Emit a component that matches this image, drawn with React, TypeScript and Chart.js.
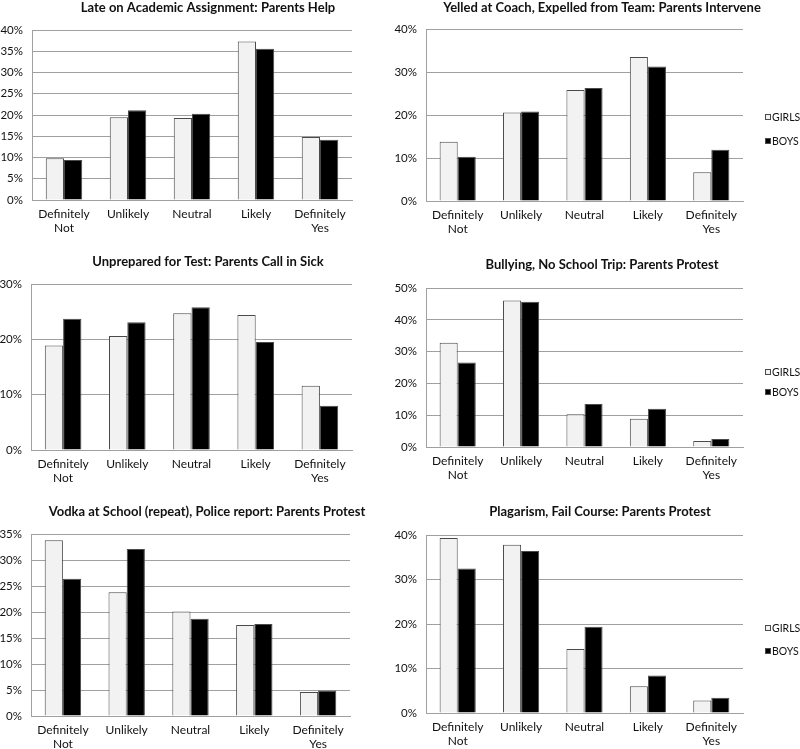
import React, { useEffect, useRef } from "react";
import { Chart, registerables } from "chart.js";

Chart.register(...registerables);

// ---------- DATA ----------
const categories: (string | string[])[] = [["Definitely", "Not"], "Unlikely", "Neutral", "Likely", ["Definitely", "Yes"]];
const seriesNames = ["GIRLS", "BOYS"];

const title1 = "Late on Academic Assignment: Parents Help";
const girls1 = [9.8, 19.5, 19.3, 37.3, 14.8];
const boys1 = [9.4, 21.1, 20.3, 35.6, 14.2];
const yTicks1 = ["0%", "5%", "10%", "15%", "20%", "25%", "30%", "35%", "40%"];

const title2 = "Yelled at Coach, Expelled from Team: Parents Intervene";
const girls2 = [13.8, 20.6, 25.8, 33.5, 6.7];
const boys2 = [10.3, 20.8, 26.3, 31.3, 11.9];
const yTicks2 = ["0%", "10%", "20%", "30%", "40%"];

const title3 = "Unprepared for Test: Parents Call in Sick";
const girls3 = [18.9, 20.6, 24.7, 24.4, 11.6];
const boys3 = [23.7, 23.1, 25.8, 19.5, 8.0];
const yTicks3 = ["0%", "10%", "20%", "30%"];

const title4 = "Bullying, No School Trip: Parents Protest";
const girls4 = [32.8, 46.1, 10.3, 8.9, 1.9];
const boys4 = [26.6, 45.7, 13.5, 12.0, 2.5];
const yTicks4 = ["0%", "10%", "20%", "30%", "40%", "50%"];

const title5 = "Vodka at School (repeat), Police report: Parents Protest";
const girls5 = [33.8, 23.8, 20.1, 17.5, 4.6];
const boys5 = [26.4, 32.1, 18.7, 17.7, 4.9];
const yTicks5 = ["0%", "5%", "10%", "15%", "20%", "25%", "30%", "35%"];

const title6 = "Plagarism, Fail Course: Parents Protest";
const girls6 = [39.3, 37.8, 14.4, 6.0, 2.8];
const boys6 = [32.5, 36.4, 19.4, 8.4, 3.4];
const yTicks6 = ["0%", "10%", "20%", "30%", "40%"];

// ---------- STYLE ----------
const FONT = "Lato, 'Open Sans', 'Liberation Sans', sans-serif";
const TEXT = "#111";
const GRID = "#a0a0a0";
const GIRLS_FILL = "#f2f2f2";
const BOYS_FILL = "#000000";
const BAR_BORDER = "#4a4a4a";

type PanelDef = {
  title: string;
  girls: number[];
  boys: number[];
  ticks: string[];
  max: number;
  step: number;
  x: number; y: number; w: number; h: number;
  plotL: number; plotR: number; plotT: number; plotB: number;
  titleY: number;
  legend: number[] | null;
};

const panels: PanelDef[] = [
  { title: title1, girls: girls1, boys: boys1, ticks: yTicks1, max: 40, step: 5,
    x: 0, y: 0, w: 416, h: 250, plotL: 32, plotR: 352, plotT: 30, plotB: 200, titleY: 7, legend: null },
  { title: title2, girls: girls2, boys: boys2, ticks: yTicks2, max: 40, step: 10,
    x: 385, y: 0, w: 434, h: 250, plotL: 426, plotR: 743, plotT: 29, plotB: 201, titleY: 6, legend: [88, 112] },
  { title: title3, girls: girls3, boys: boys3, ticks: yTicks3, max: 30, step: 10,
    x: 0, y: 250, w: 416, h: 250, plotL: 31, plotR: 352, plotT: 284, plotB: 450, titleY: 262, legend: null },
  { title: title4, girls: girls4, boys: boys4, ticks: yTicks4, max: 50, step: 10,
    x: 385, y: 250, w: 434, h: 250, plotL: 426, plotR: 743, plotT: 288, plotB: 447, titleY: 265, legend: [84, 104] },
  { title: title5, girls: girls5, boys: boys5, ticks: yTicks5, max: 35, step: 5,
    x: 0, y: 500, w: 414, h: 249, plotL: 31, plotR: 350, plotT: 534, plotB: 716, titleY: 512, legend: null },
  { title: title6, girls: girls6, boys: boys6, ticks: yTicks6, max: 40, step: 10,
    x: 385, y: 500, w: 430, h: 249, plotL: 426, plotR: 743, plotT: 535, plotB: 713, titleY: 512, legend: [93, 116] },
];

const sideLegend = {
  id: "sideLegend",
  afterDraw(chart: any, _args: any, opts: any) {
    if (!opts || !opts.offsets) return;
    const { ctx, chartArea } = chart;
    ctx.save();
    ctx.font = `10.5px ${FONT}`;
    ctx.textBaseline = "middle";
    ctx.textAlign = "left";
    chart.data.datasets.forEach((ds: any, i: number) => {
      const yc = Math.round(chartArea.top + opts.offsets[i]);
      const bx = Math.round(chartArea.right + 22);
      ctx.fillStyle = ds.backgroundColor;
      ctx.fillRect(bx, yc - 3, 6, 6);
      ctx.strokeStyle = BAR_BORDER;
      ctx.lineWidth = 1;
      ctx.strokeRect(bx + 0.5, yc - 2.5, 5, 5);
      ctx.fillStyle = TEXT;
      ctx.fillText(ds.label, bx + 7, yc + 0.5);
    });
    ctx.restore();
  },
};

function Panel({ p }: { p: PanelDef }) {
  const ref = useRef<HTMLCanvasElement>(null);
  useEffect(() => {
    const titleSize = 13;
    const titleLH = titleSize * 1.2;
    const relTitle = p.titleY - p.y;
    const padTop = Math.max(0, relTitle - titleLH / 2);
    const padBottom = p.plotT - p.y - padTop - titleLH;
    const yw = p.plotL - p.x;
    const rw = p.x + p.w - p.plotR;
    const xh = p.y + p.h - p.plotB;

    const chart = new Chart(ref.current as HTMLCanvasElement, {
      type: "bar",
      data: {
        labels: categories as any,
        datasets: [
          { label: seriesNames[0], data: p.girls, backgroundColor: GIRLS_FILL, borderColor: BAR_BORDER, borderWidth: 1,
            categoryPercentage: 0.57, barPercentage: 1.0 },
          { label: seriesNames[1], data: p.boys, backgroundColor: BOYS_FILL, borderColor: BAR_BORDER, borderWidth: 1,
            categoryPercentage: 0.57, barPercentage: 1.0 },
        ],
      },
      options: {
        responsive: false,
        devicePixelRatio: 1,
        animation: false,
        layout: { padding: 0 },
        plugins: {
          legend: { display: false },
          tooltip: { enabled: false },
          title: {
            display: true,
            text: p.title,
            color: TEXT,
            font: { family: FONT, size: titleSize, weight: "bold", lineHeight: 1.2 },
            padding: { top: padTop, bottom: padBottom },
          },
          sideLegend: { offsets: p.legend },
        } as any,
        scales: {
          x: {
            type: "category",
            offset: true,
            grid: { display: false, drawTicks: false },
            border: { display: true, color: GRID, width: 1 },
            ticks: { padding: 8, color: TEXT, maxRotation: 0, autoSkip: false,
              font: { family: FONT, size: 12, lineHeight: 1.1 } },
            afterFit: (s: any) => { s.height = xh; },
          },
          y: {
            type: "linear",
            min: 0,
            max: p.max,
            grid: { color: GRID, drawTicks: false, lineWidth: 1 },
            border: { display: true, color: GRID, width: 1 },
            ticks: { stepSize: p.step, padding: 9, color: TEXT,
              font: { family: FONT, size: 11.5 },
              callback: (_v: any, i: number) => p.ticks[i] },
            afterFit: (s: any) => { s.width = yw; },
          },
          yR: {
            type: "linear",
            position: "right",
            display: true,
            grid: { display: false, drawTicks: false },
            border: { display: false },
            ticks: { display: false },
            afterFit: (s: any) => { s.width = rw; },
          },
        } as any,
      },
      plugins: [sideLegend as any],
    });
    return () => chart.destroy();
  }, []);
  return (
    <canvas
      ref={ref}
      width={p.w}
      height={p.h}
      style={{ position: "absolute", left: p.x, top: p.y, width: p.w, height: p.h }}
    />
  );
}

export default function App() {
  return (
    <div style={{ position: "absolute", left: 0, top: 0, width: 800, height: 749, overflow: "hidden", background: "#fff" }}>
      {panels.map((p, i) => (
        <Panel key={i} p={p} />
      ))}
    </div>
  );
}
